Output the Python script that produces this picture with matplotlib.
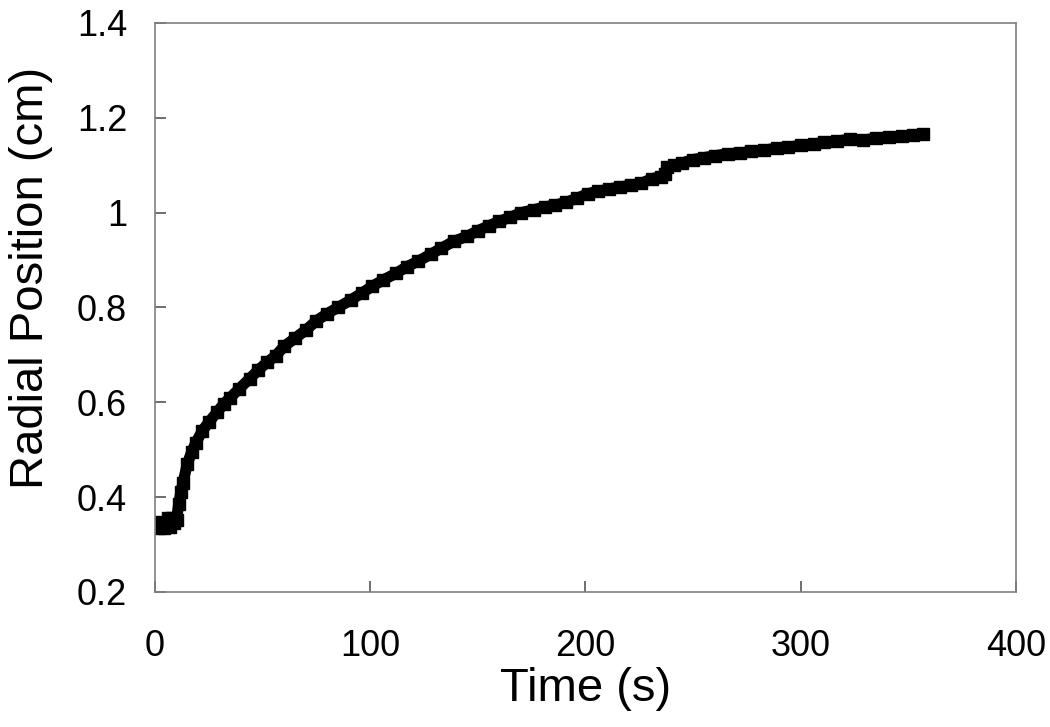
import matplotlib
matplotlib.use("Agg")
from matplotlib import pyplot as plt

# values
time_s = [
    1, 2, 3, 4, 5, 6, 7, 8, 9, 10,
    11, 12, 13, 15, 17, 19, 22, 25, 29, 32,
    35, 39, 44, 48, 52, 56, 60, 65, 70, 75,
    80, 85, 91, 96, 101, 106, 112, 117, 122, 128,
    133, 139, 145, 150, 155, 160, 165, 170, 176, 181,
    186, 191, 196, 201, 206, 211, 216, 221, 226, 231,
    235, 237, 238, 241, 245, 250, 255, 260, 266, 272,
    277, 283, 289, 294, 300, 306, 311, 317, 323, 329,
    335, 341, 347, 352, 357,
]
radial_cm = [
    0.343, 0.336, 0.348, 0.335, 0.342, 0.355, 0.338, 0.356, 0.345, 0.352,
    0.385, 0.410, 0.430, 0.470, 0.495, 0.515, 0.540, 0.558, 0.580, 0.597,
    0.610, 0.628, 0.650, 0.668, 0.684, 0.698, 0.718, 0.735, 0.752, 0.772,
    0.787, 0.800, 0.816, 0.830, 0.845, 0.858, 0.872, 0.886, 0.897, 0.912,
    0.925, 0.940, 0.950, 0.962, 0.972, 0.982, 0.990, 1.000, 1.006, 1.012,
    1.016, 1.022, 1.030, 1.040, 1.045, 1.050, 1.054, 1.058, 1.062, 1.072,
    1.075, 1.082, 1.096, 1.100, 1.105, 1.112, 1.116, 1.120, 1.124, 1.126,
    1.129, 1.132, 1.136, 1.138, 1.142, 1.145, 1.148, 1.151, 1.155, 1.153,
    1.157, 1.160, 1.161, 1.163, 1.165,
]

x_ticks = [0, 100, 200, 300, 400]
y_ticks = [0.2, 0.4, 0.6, 0.8, 1.0, 1.2, 1.4]
y_tick_labels = ["0.2", "0.4", "0.6", "0.8", "1", "1.2", "1.4"]

plt.rcParams["font.family"] = ["Liberation Sans", "DejaVu Sans"]

fig = plt.figure(figsize=(10.5, 7.27), dpi=100)
ax = fig.add_axes([0.1476, 0.1857, 0.82, 0.7827])

ax.plot(time_s, radial_cm, color="black", linewidth=8,
        solid_capstyle="round", solid_joinstyle="round")
ax.plot(time_s, radial_cm, "s", color="black", markersize=8)

ax.set_xlim(0, 400)
ax.set_ylim(0.2, 1.4)
ax.set_xticks(x_ticks)
ax.set_yticks(y_ticks)
ax.set_yticklabels(y_tick_labels)
ax.tick_params(direction="in", length=8, width=1.2, color="#555555",
               labelsize=26)
ax.tick_params(axis="x", pad=27)
ax.tick_params(axis="y", pad=20)

for spine in ax.spines.values():
    spine.set_color("#808080")
    spine.set_linewidth(1.2)

ax.set_xlabel("Time (s)", fontsize=34, labelpad=2)
ax.set_ylabel("Radial Position (cm)", fontsize=34)
ax.yaxis.set_label_coords(-0.118, 0.552)

fig.savefig("out.png", dpi=100)
